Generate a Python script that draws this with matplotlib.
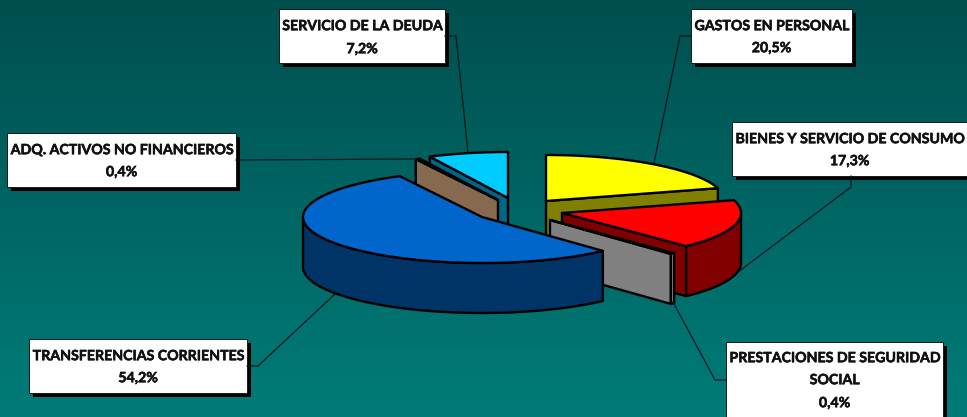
import matplotlib
matplotlib.use("Agg")
import matplotlib.pyplot as plt
import matplotlib.patheffects as pe
from matplotlib.patches import Polygon, Rectangle
import numpy as np

################################### DATA ###################################
# clockwise from 12 o'clock, same order as the slices in the picture
names = ["GASTOS EN PERSONAL", "BIENES Y SERVICIO DE CONSUMO",
         "PRESTACIONES DE SEGURIDAD\nSOCIAL", "TRANSFERENCIAS CORRIENTES",
         "ADQ. ACTIVOS NO FINANCIEROS", "SERVICIO DE LA DEUDA"]
shares = [20.5, 17.3, 0.4, 54.2, 0.4, 7.2]
share_labels = ["20,5%", "17,3%", "0,4%", "54,2%", "0,4%", "7,2%"]

################################### STYLE ##################################
top_colors = ["#FFFF00", "#FF0000", "#969696", "#0066CC", "#996633", "#00CCFF"]
side_colors = ["#808000", "#800000", "#808080", "#003366", "#866A50", "#006688"]
centers = [(546, 201), (562, 213), (550, 220), (482, 217), (498, 200), (508, 198)]
rx, ry, depth = 179, 46, 50
draw_order = [5, 4, 0, 1, 2, 3]

# box x0, y0, x1, y1 and leader line points
boxes = [(691, 9, 852, 63), (732, 122, 970, 176), (726, 342, 943, 430),
         (29, 339, 247, 393), (7, 133, 236, 187), (279, 9, 445, 63)]
text_y = [[25, 47], [138, 160], [357, 379, 402], [355, 377], [149, 171], [25, 48]]
leaders = [[(691, 36), (680, 36), (654, 163)],
           [(851, 176), (851, 187), (738, 272)],
           [(726, 380), (715, 380), (673, 302)],
           [(247, 366), (258, 366), (335, 294)],
           [(236, 160), (417, 159)],
           [(445, 36), (456, 36), (468, 153)]]

################################## HELPERS #################################
def rim(cx, cy, t):
    t = np.radians(t)
    return cx + rx*np.cos(t), cy - ry*np.sin(t)

def arc(cx, cy, hi, lo, drop=0):
    x, y = rim(cx, cy, np.linspace(hi, lo, 80))
    return list(zip(x, y + drop))

def addPoly(pts, color):
    ax.add_patch(Polygon(pts, closed=True, facecolor=color, edgecolor="black",
                         linewidth=1.7, joinstyle="round"))

def drawSlice(i, hi, lo):
    cx, cy = centers[i]
    # radial cuts that face the viewer
    for t, n in ((hi, hi + 90), (lo, lo - 90)):
        if np.sin(np.radians(n)) < -0.01:
            ox, oy = rim(cx, cy, t)
            addPoly([(cx, cy), (ox, oy), (ox, oy + depth), (cx, cy + depth)], side_colors[i])
    # outer wall, lower half of the rim only
    for k in range(-1, 1):
        a = min(hi, 360*k + 360)
        b = max(lo, 360*k + 180)
        if a > b:
            addPoly(arc(cx, cy, a, b) + arc(cx, cy, b, a, depth), side_colors[i])
    addPoly([(cx, cy)] + arc(cx, cy, hi, lo), top_colors[i])

################################### PLOT ###################################
fig = plt.figure(figsize=(9.67, 4.17), dpi=100)
ax = fig.add_axes([0, 0, 1, 1])
ax.set_xlim(0, 967)
ax.set_ylim(417, 0)
ax.axis("off")

grad = np.linspace(0, 1, 256).reshape(-1, 1)
cmap = matplotlib.colors.LinearSegmentedColormap.from_list("bg", ["#004F4F", "#007C78"])
ax.imshow(grad, cmap=cmap, extent=(0, 967, 417, 0), aspect="auto", zorder=0)

for pts in leaders:
    ax.plot([p[0] for p in pts], [p[1] for p in pts], color="#03181A", lw=0.9)

angles = 90 - np.cumsum([0] + shares) * 360 / sum(shares)
for i in draw_order:
    hi, lo = angles[i], angles[i + 1]
    if lo < -180:
        hi, lo = hi + 360, lo + 360
    drawSlice(i, hi, lo)

for i, (x0, y0, x1, y1) in enumerate(boxes):
    ax.add_patch(Rectangle((x0 + 4, y0 + 4), x1 - x0, y1 - y0, facecolor="black", edgecolor="none"))
    ax.add_patch(Rectangle((x0, y0), x1 - x0, y1 - y0, facecolor="white", edgecolor="#1A1A1A", lw=0.7))
    lines = names[i].split("\n") + [share_labels[i]]
    for line, y in zip(lines, text_y[i]):
        t = ax.text((x0 + min(x1, 967)) / 2, y + 1.2, line, ha="center", va="center",
                    family="Lato", weight="bold", fontsize=10.2, color="#111111")
        t.set_path_effects([pe.withStroke(linewidth=0.4, foreground="#111111")])

fig.savefig("out.png", dpi=100)
